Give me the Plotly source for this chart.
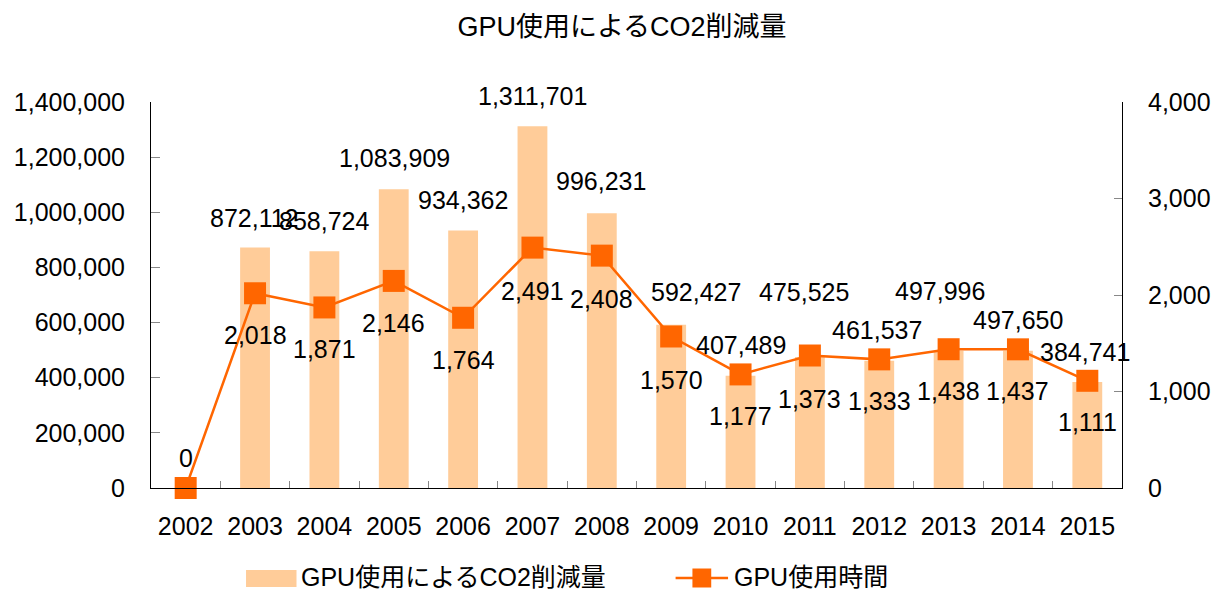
import plotly.graph_objects as go

# ---- data ----
years = ["2002", "2003", "2004", "2005", "2006", "2007", "2008",
         "2009", "2010", "2011", "2012", "2013", "2014", "2015"]
co2_reduction = [0, 872112, 858724, 1083909, 934362, 1311701, 996231,
                 592427, 407489, 475525, 461537, 497996, 497650, 384741]
gpu_hours = [0, 2018, 1871, 2146, 1764, 2491, 2408,
             1570, 1177, 1373, 1333, 1438, 1437, 1111]

bar_name = "GPU使用によるCO2削減量"
line_name = "GPU使用時間"
title_text = "GPU使用によるCO2削減量"

# ---- style ----
FONT = "Liberation Sans, Arial, Noto Sans CJK JP, sans-serif"
BAR_COLOR = "#FFCC99"
LINE_COLOR = "#FF6600"
W, H = 1223, 591
ML, MR, MT, MB = 151, 91, 102, 103

# label offsets (pixels) -- manual placement as in the reference
bar_label_dx = [0, -1, 0, 1, 0, 0, -1, 25, 0, -6, -2, -9, 0, -2]
bar_label_up = [30, 30, 30, 31, 30, 30, 32, 33, 31, 65, 31, 60, 31, 30]
line_label_down = [None, 42, 42, 42, 42, 43, 43, 43, 42, 43, 42, 42, 42, 41]

fig = go.Figure()
fig.add_trace(go.Bar(
    x=years, y=co2_reduction, name=bar_name, marker=dict(color=BAR_COLOR, line=dict(width=0)),
    width=0.43, yaxis="y", showlegend=False, cliponaxis=False))
fig.add_trace(go.Scatter(
    x=years, y=gpu_hours, name=line_name, mode="lines+markers", yaxis="y2",
    line=dict(color=LINE_COLOR, width=2.5),
    marker=dict(symbol="square", size=22, color=LINE_COLOR, line=dict(width=0)),
    showlegend=False, cliponaxis=False))

ann = []
# category axis: annotations positioned by category index (year strings look numeric)
for i, v in enumerate(co2_reduction):
    ann.append(dict(x=i, y=v, xref="x", yref="y", text=f"{v:,}", showarrow=False,
                    xshift=bar_label_dx[i], yshift=bar_label_up[i], yanchor="middle",
                    font=dict(family=FONT, size=25, color="black")))
for i, v in enumerate(gpu_hours):
    if line_label_down[i] is None:
        continue
    ann.append(dict(x=i, y=v, xref="x", yref="y2", text=f"{v:,}", showarrow=False,
                    yshift=-line_label_down[i], yanchor="middle",
                    font=dict(family=FONT, size=25, color="black")))

pw, ph = W - ML - MR, H - MT - MB
def px_x(p):
    return (p - ML) / pw
def px_y(p):
    return (H - MB - p) / ph

shapes = []
# legend: bar swatch
shapes.append(dict(type="rect", xref="paper", yref="paper",
                   x0=px_x(247), x1=px_x(298), y0=px_y(587), y1=px_y(570),
                   fillcolor=BAR_COLOR, line=dict(width=0)))
ann.append(dict(x=px_x(302), y=px_y(577), xref="paper", yref="paper", text=bar_name,
                showarrow=False, xanchor="left", yanchor="middle", borderpad=0,
                font=dict(family=FONT, size=25, color="black")))
# legend: line + marker
shapes.append(dict(type="line", xref="paper", yref="paper",
                   x0=px_x(681), x1=px_x(734), y0=px_y(578), y1=px_y(578),
                   line=dict(color=LINE_COLOR, width=2.5)))
shapes.append(dict(type="rect", xref="paper", yref="paper",
                   x0=px_x(698), x1=px_x(717), y0=px_y(587.5), y1=px_y(568.5),
                   fillcolor=LINE_COLOR, line=dict(width=0)))
ann.append(dict(x=px_x(739), y=px_y(577), xref="paper", yref="paper", text=line_name,
                showarrow=False, xanchor="left", yanchor="middle", borderpad=0,
                font=dict(family=FONT, size=25, color="black")))

fig.update_layout(
    width=W, height=H,
    margin=dict(l=ML, r=MR, t=MT, b=MB),
    paper_bgcolor="white", plot_bgcolor="white",
    font=dict(family=FONT, size=25, color="black"),
    title=dict(text=title_text, x=622 / W, xref="container", xanchor="center",
               y=1 - 27 / H, yref="container", yanchor="middle",
               font=dict(family=FONT, size=27, color="black")),
    showlegend=False,
    bargap=0.57,
    xaxis=dict(type="category", range=[-0.5, 13.5], showline=True, linecolor="black",
               linewidth=1, ticks="inside", tickson="boundaries", ticklen=7,
               tickcolor="#888888", showgrid=False, zeroline=False,
               ticklabelstandoff=16, tickfont=dict(size=25)),
    yaxis=dict(range=[0, 1400000], dtick=200000, tickformat=",", showline=True,
               linecolor="black", linewidth=1, ticks="inside", ticklen=9,
               tickcolor="#888888", showgrid=False, zeroline=False,
               ticklabelstandoff=20, tickfont=dict(size=25)),
    yaxis2=dict(range=[0, 4000], dtick=1000, tickformat=",", overlaying="y",
                side="right", showline=True, linecolor="black", linewidth=1,
                ticks="inside", ticklen=8, tickcolor="#888888", showgrid=False,
                zeroline=False, ticklabelstandoff=20, tickfont=dict(size=25)),
    annotations=ann,
    shapes=shapes,
)

fig.write_html("out.html")
